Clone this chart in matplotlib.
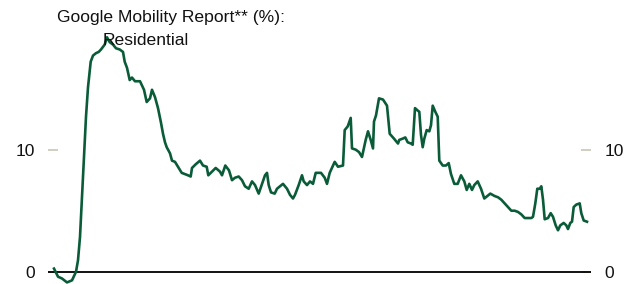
import matplotlib
matplotlib.use("Agg")
import matplotlib.pyplot as plt

# x positions (time index, roughly days since start) and residential mobility values (%)
time_index = [0, 4, 8, 13, 18, 22, 24, 26, 28, 30, 32, 34, 36.7, 39, 42, 44.7, 47, 50.7,
              53, 55.7, 59, 62, 65.7, 69, 70.7, 73, 75.7, 78, 81, 86, 90, 92.7, 96, 98,
              101, 104, 107, 109, 111, 112.7, 116, 118, 121, 124, 127.7, 131, 134, 136.7,
              138, 141.7, 146, 149, 152.7, 154.3, 158, 161.7, 166, 168, 171.3, 175, 178,
              181, 184.7, 188, 191, 194.7, 198, 201, 204.7, 208, 211, 213, 214.7, 217,
              220.7, 223, 226, 229, 233, 236, 239, 241, 244.7, 248, 249.7, 253, 256, 259,
              261.7, 267, 270.7, 273, 275.7, 280.7, 284, 289, 290.7, 293.7, 296.7, 298,
              301.7, 305, 308, 311.7, 314, 316.7, 319, 320, 322, 325, 329, 333, 335.7,
              340, 344, 345.3, 348.7, 351.3, 353.7, 357, 358.7, 361, 363.7, 365.3, 367,
              368.7, 370.3, 372.7, 375.3, 377, 378.7, 381.3, 383.7, 385.3, 388.7, 392,
              394.7, 397, 400.3, 403.7, 407, 410.3, 412.7, 415.3, 418, 420.3, 423.7, 427,
              430.3, 436.3, 440.7, 444, 447.3, 450.7, 454, 457.3, 460.7, 464, 467.3, 470.7,
              474, 477.3, 479, 481.3, 483.3, 485.7, 487.3, 489, 490.7, 494, 496.7, 499,
              501.7, 504, 506.3, 509.7, 512.3, 514, 516.3, 518, 519.7, 522.3, 525.7, 527.3,
              529.7, 533]
residential = [0.26, -0.4, -0.55, -0.87, -0.7, 0.0, 0.94, 2.85, 6.1, 9.4, 12.7, 15.1, 17.2,
               17.7, 17.9, 18.0, 18.2, 18.6, 19.2, 18.8, 18.6, 18.3, 18.2, 18.0, 17.2, 16.7,
               15.7, 15.9, 15.6, 15.6, 14.9, 13.9, 14.2, 14.9, 14.3, 13.4, 12.2, 11.3, 10.6,
               10.2, 9.7, 9.1, 9.0, 8.6, 8.1, 8.0, 7.9, 7.8, 8.5, 8.8, 9.1, 8.7, 8.6, 7.9,
               8.2, 8.5, 8.2, 7.9, 8.7, 8.3, 7.5, 7.7, 7.8, 7.5, 7.0, 6.8, 7.4, 7.1, 6.4,
               7.2, 7.9, 8.1, 7.1, 6.5, 6.4, 6.8, 7.0, 7.2, 6.8, 6.3, 6.0, 6.3, 7.1, 7.9,
               7.4, 7.1, 7.4, 7.2, 8.1, 8.1, 7.7, 7.2, 8.1, 9.0, 8.6, 8.7, 11.6, 11.9, 12.6,
               10.1, 10.0, 9.8, 9.4, 10.8, 11.5, 10.8, 10.1, 12.3, 12.8, 14.2, 14.1, 13.6,
               11.3, 10.9, 10.5, 10.8, 10.9, 11.0, 10.6, 10.5, 10.4, 13.4, 13.2, 13.1, 11.2,
               10.2, 10.9, 11.6, 11.5, 12.0, 13.6, 13.1, 12.7, 9.1, 8.7, 8.7, 8.9, 8.0, 7.2,
               7.2, 7.9, 7.4, 6.7, 7.2, 6.7, 7.1, 7.4, 6.8, 6.0, 6.4, 6.2, 6.1, 5.9, 5.6,
               5.3, 5.0, 5.0, 4.9, 4.7, 4.4, 4.4, 4.4, 4.5, 5.6, 6.8, 6.8, 7.0, 5.9, 4.3,
               4.4, 4.8, 4.5, 3.8, 3.4, 3.8, 4.0, 3.8, 3.5, 4.0, 4.1, 5.3, 5.5, 5.6, 4.8,
               4.2, 4.1]
y_ticks = [0, 10]
title_line1 = "Google Mobility Report** (%):"
title_line2 = "Residential"

W, H, DPI = 633, 284, 100
fig = plt.figure(figsize=(W / DPI, H / DPI), dpi=DPI)
ax = fig.add_axes([48 / W, 0.0, (591 - 48) / W, 1 - 27.5 / H])

line_color = "#0a5c38"
tick_color = "#c9c5b6"
text_color = "#111111"
font = "Liberation Sans"

ax.plot(time_index, residential, color=line_color, lw=1.9, solid_joinstyle="round", zorder=3)
ax.axhline(0, color="black", lw=1.3, zorder=2)

ax.set_xlim(-6, 537)
ax.set_ylim(-1.0, 20)
ax.set_xticks([])
ax.set_yticks(y_ticks)
ax.set_yticklabels([str(t) for t in y_ticks], fontfamily=font, fontsize=12.5)
ax.tick_params(axis="y", direction="in", length=7, width=1.2, color=tick_color,
               pad=9.5, labelleft=True, labelright=True, left=True, right=True,
               labelcolor=text_color)
for s in ax.spines.values():
    s.set_visible(False)
ax.patch.set_alpha(0)

fig.text(57 / W, 1 - 22 / H, title_line1, fontfamily=font, fontsize=12.6,
         ha="left", va="baseline", color=text_color)
fig.text(103 / W, 1 - 45 / H, title_line2, fontfamily=font, fontsize=12.6,
         ha="left", va="baseline", color=text_color)

fig.savefig("out.png", dpi=DPI)
